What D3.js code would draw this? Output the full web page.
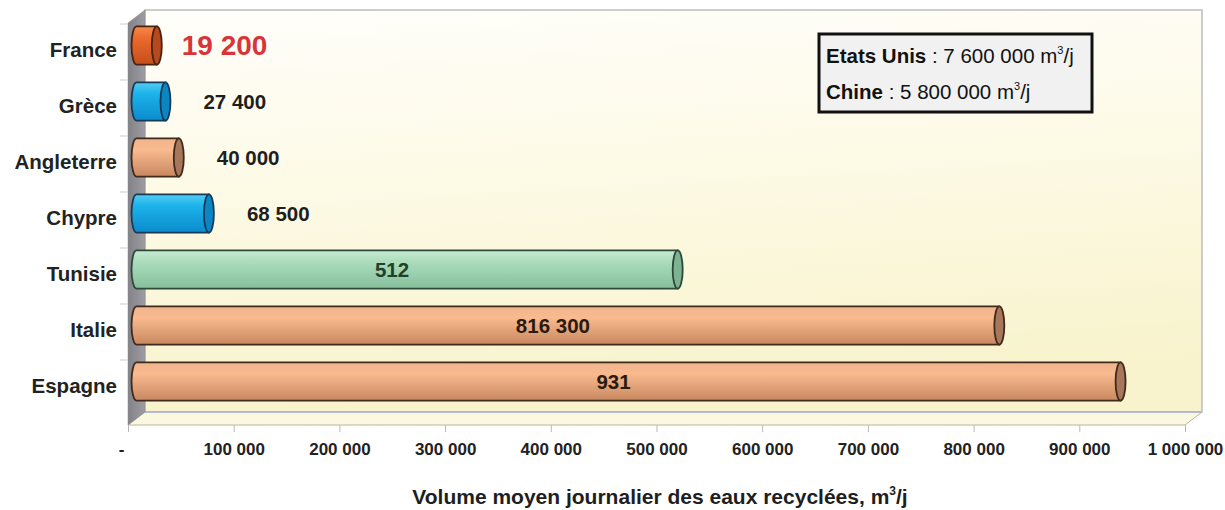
<!DOCTYPE html>
<html>
<head>
<meta charset="utf-8">
<script src="https://cdn.jsdelivr.net/npm/d3@7"></script>
<style>
  body { margin: 0; background: #ffffff; }
  text { font-family: Arial, "Liberation Sans", sans-serif; }
</style>
</head>
<body>
<div class="chart"></div>
<script>
/* Global Constants
============================================= */
const SVG_WIDTH = 1225;
const SVG_HEIGHT = 510;

// depth of the 3D box
const DEPTH_X = 17;
const DEPTH_Y = 13;

/* Data
============================================= */
const categories = ["France", "Grèce", "Angleterre", "Chypre", "Tunisie", "Italie", "Espagne"];
const values = [19200, 27400, 40000, 68500, 512000, 816300, 931000];
const valueLabels = ["19 200", "27 400", "40 000", "68 500", "512", "816 300", "931"];

const xTicks = [0, 100000, 200000, 300000, 400000, 500000, 600000, 700000, 800000, 900000, 1000000];

const otherCountries = ["Etats Unis", "Chine"];
const otherValues = [" : 7 600 000 m", " : 5 800 000 m"];

const xTitle = "Volume moyen journalier des eaux recyclées, m";

/* Styles
============================================= */
const palette = {
    "France":     { top: "#f58a4c", mid: "#ec6a2c", bot: "#c44e1c", cap: "#b64a1e", line: "#4a2210" },
    "Grèce":      { top: "#52cdf4", mid: "#1cb2ea", bot: "#0b8ccc", cap: "#0c86c2", line: "#173a58" },
    "Chypre":     { top: "#52cdf4", mid: "#1cb2ea", bot: "#0b8ccc", cap: "#0c86c2", line: "#173a58" },
    "Angleterre": { top: "#f0b48e", mid: "#f9ba8e", bot: "#c98860", cap: "#a8765a", line: "#3f2a1c" },
    "Italie":     { top: "#f0b48e", mid: "#f9ba8e", bot: "#c98860", cap: "#a8765a", line: "#3f2a1c" },
    "Espagne":    { top: "#f0b48e", mid: "#f9ba8e", bot: "#c98860", cap: "#a8765a", line: "#3f2a1c" },
    "Tunisie":    { top: "#c6ebd2", mid: "#abdcbb", bot: "#86bf9c", cap: "#7fb193", line: "#2b4a38" }
};

const labelInside = { "Tunisie": "#21402c", "Italie": "#2a1a10", "Espagne": "#2a1a10" };

var frontTop = 23;
var frontBottom = 425;

var fmtLocale = d3.formatLocale({ decimal: ",", thousands: " ", grouping: [3], currency: ["", ""] });
var fmt = fmtLocale.format(",");

//****************** init *****************************//
var svg = d3.select(".chart")
    .append("svg")
    .attr("width", SVG_WIDTH)
    .attr("height", SVG_HEIGHT);

var defs = svg.append("defs");

var xLinearScale = d3.scaleLinear()
    .domain([0, 1000000])
    .range([128, 1185]);

var yBandScale = d3.scaleBand()
    .domain(categories)
    .range([24, 416])
    .paddingInner(0.32)
    .paddingOuter(0.16);

// back wall gradient
var wallGrad = defs.append("linearGradient")
    .attr("id", "wallGrad")
    .attr("x1", 0).attr("y1", 0).attr("x2", 0.15).attr("y2", 1);
wallGrad.append("stop").attr("offset", "0%").attr("stop-color", "#fffefa");
wallGrad.append("stop").attr("offset", "45%").attr("stop-color", "#fdfae6");
wallGrad.append("stop").attr("offset", "100%").attr("stop-color", "#f8f3cc");

var sideGrad = defs.append("linearGradient")
    .attr("id", "sideGrad")
    .attr("x1", 0).attr("y1", 0).attr("x2", 1).attr("y2", 0);
sideGrad.append("stop").attr("offset", "0%").attr("stop-color", "#828289");
sideGrad.append("stop").attr("offset", "100%").attr("stop-color", "#9c9ca2");

// bar gradients
Object.keys(palette).forEach(function(key, i) {
    var p = palette[key];
    var g = defs.append("linearGradient")
        .attr("id", "barGrad" + i)
        .attr("x1", 0).attr("y1", 0).attr("x2", 0).attr("y2", 1);
    g.append("stop").attr("offset", "0%").attr("stop-color", p.top);
    g.append("stop").attr("offset", "30%").attr("stop-color", p.mid);
    g.append("stop").attr("offset", "100%").attr("stop-color", p.bot);
    p.grad = "url(#barGrad" + i + ")";
});

drawBox();
drawAxis();
drawBars();
drawLegend();

/* Functions
============================================= */

/*
 * draws the 3D walls and floor
 */
function drawBox() {
    var x0 = xLinearScale(0),
        x1 = xLinearScale(1000000);

    // back wall
    svg.append("rect")
        .attr("x", x0 + DEPTH_X)
        .attr("y", frontTop - DEPTH_Y)
        .attr("width", x1 - x0)
        .attr("height", frontBottom - frontTop)
        .attr("fill", "url(#wallGrad)")
        .attr("stroke", "#bdbdbd")
        .attr("stroke-width", 1.5);

    // floor
    svg.append("path")
        .attr("d", `M${x0},${frontBottom} L${x0 + DEPTH_X},${frontBottom - DEPTH_Y} L${x1 + DEPTH_X},${frontBottom - DEPTH_Y} L${x1},${frontBottom} Z`)
        .attr("fill", "#fbf8e0")
        .attr("stroke", "#b9b4a0")
        .attr("stroke-width", 1);

    svg.append("line")
        .attr("x1", x0 + DEPTH_X).attr("x2", x1 + DEPTH_X)
        .attr("y1", frontBottom - DEPTH_Y).attr("y2", frontBottom - DEPTH_Y)
        .attr("stroke", "#a9b4d8")
        .attr("stroke-width", 1.5);

    // left wall
    svg.append("path")
        .attr("d", `M${x0},${frontTop} L${x0 + DEPTH_X},${frontTop - DEPTH_Y} L${x0 + DEPTH_X},${frontBottom - DEPTH_Y} L${x0},${frontBottom} Z`)
        .attr("fill", "url(#sideGrad)")
        .attr("stroke", "#8a8a8a")
        .attr("stroke-width", 0.5);

    // category ticks on the left
    var bounds = categories.map(function(c) {
        return yBandScale(c) - yBandScale.step() * yBandScale.paddingInner() / 2;
    });
    svg.selectAll(".ytick")
        .data(bounds)
        .enter()
        .append("line")
        .attr("x1", x0 - 8).attr("x2", x0)
        .attr("y1", function(d) { return d; })
        .attr("y2", function(d) { return d; })
        .attr("stroke", "#cfcfcf");

    svg.selectAll(".ylabel")
        .data(categories)
        .enter()
        .append("text")
        .attr("x", x0 - 11)
        .attr("y", function(d) { return yBandScale(d) + yBandScale.bandwidth() / 2 - 2; })
        .attr("dy", "0.35em")
        .attr("text-anchor", "end")
        .attr("font-size", 20.5)
        .attr("font-weight", "bold")
        .attr("fill", "#222")
        .text(function(d) { return d; });
}

/*
 * bottom axis, ticks and title
 */
function drawAxis() {
    var bottomAxis = d3.axisBottom(xLinearScale)
        .tickValues(xTicks)
        .tickSize(7)
        .tickPadding(11)
        .tickFormat(function(d) { return d === 0 ? "-" : fmt(d); });

    var xAxis = svg.append("g")
        .attr("transform", `translate(0, ${frontBottom})`)
        .call(bottomAxis);

    xAxis.select(".domain").remove();
    xAxis.selectAll(".tick line").attr("stroke", "#b8b8b8");
    xAxis.selectAll(".tick text")
        .attr("font-size", 17)
        .attr("font-weight", "bold")
        .attr("font-family", "Arial, 'Liberation Sans', sans-serif")
        .attr("fill", "#222")
        .attr("dx", function(d) { return d === 0 ? -7 : 0; });

    var title = svg.append("text")
        .attr("x", 660)
        .attr("y", 504)
        .attr("text-anchor", "middle")
        .attr("font-size", 21)
        .attr("font-weight", "bold")
        .attr("fill", "#1e1e1e");
    title.append("tspan").text(xTitle);
    title.append("tspan").attr("font-size", 12).attr("dy", -9).text("3");
    title.append("tspan").attr("dy", 9).text("/j");
}

/*
 * cylinder bars with value labels
 */
function drawBars() {
    var rx = 5;
    var barH = yBandScale.bandwidth();

    var bars = svg.selectAll(".bar")
        .data(categories)
        .enter()
        .append("g")
        .attr("class", "bar");

    bars.each(function(c, i) {
        var g = d3.select(this);
        var p = palette[c];
        var cy = yBandScale(c) + barH / 2 - DEPTH_Y / 2;
        var xs = xLinearScale(0) + DEPTH_X / 2;
        var xe = xLinearScale(values[i]) + DEPTH_X / 2;
        var top = cy - barH / 2,
            bot = cy + barH / 2;

        g.append("path")
            .attr("d", `M${xs},${top} L${xe},${top} L${xe},${bot} L${xs},${bot} A${rx},${barH / 2} 0 0 1 ${xs},${top} Z`)
            .attr("fill", p.grad)
            .attr("stroke", p.line)
            .attr("stroke-width", 1.8);

        g.append("ellipse")
            .attr("cx", xe)
            .attr("cy", cy)
            .attr("rx", rx)
            .attr("ry", barH / 2)
            .attr("fill", p.cap)
            .attr("stroke", p.line)
            .attr("stroke-width", 1.8);

        var inside = labelInside[c];
        var lbl = g.append("text")
            .attr("y", cy)
            .attr("dy", "0.35em")
            .attr("font-weight", "bold")
            .text(valueLabels[i]);

        if (inside) {
            lbl.attr("x", (xs + xe) / 2 - 15)
                .attr("text-anchor", "middle")
                .attr("font-size", 20.5)
                .attr("fill", inside);
        } else if (c === "France") {
            lbl.attr("x", xe + 25)
                .attr("font-size", 28)
                .attr("fill", "#d8343a");
        } else {
            lbl.attr("x", xe + 38)
                .attr("font-size", 20.5)
                .attr("fill", "#1e1e1e");
        }
    });
}

/*
 * boxed note for the big producers
 */
function drawLegend() {
    var box = svg.append("g").attr("transform", "translate(819, 34)");

    box.append("rect")
        .attr("width", 273)
        .attr("height", 78)
        .attr("fill", "#f1f1f1")
        .attr("stroke", "#111")
        .attr("stroke-width", 3);

    otherCountries.forEach(function(name, i) {
        var t = box.append("text")
            .attr("x", 7)
            .attr("y", 29 + i * 36)
            .attr("font-size", 20.5)
            .attr("fill", "#111");
        t.append("tspan").attr("font-weight", "bold").text(name);
        t.append("tspan").text(otherValues[i]);
        t.append("tspan").attr("font-size", 11).attr("dy", -9).text("3");
        t.append("tspan").attr("dy", 9).text("/j");
    });
}
</script>
</body>
</html>
